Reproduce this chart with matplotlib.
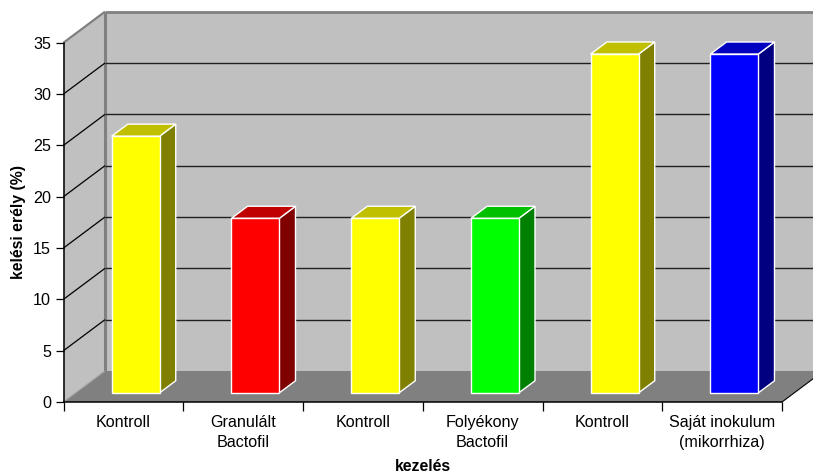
import matplotlib
matplotlib.use('Agg')
import matplotlib.pyplot as plt
from matplotlib.patches import Polygon

plt.rcParams['font.family'] = ['Liberation Sans', 'DejaVu Sans']

kezeles = ['Kontroll', 'Granulált\nBactofil', 'Kontroll', 'Folyékony\nBactofil', 'Kontroll', 'Saját inokulum\n(mikorrhiza)']
keles = [25, 17, 17, 17, 33, 33]
y_ticks = [0, 5, 10, 15, 20, 25, 30, 35]

# front, top, side shade of every bar
szin_elol = ['#ffff00', '#ff0000', '#ffff00', '#00ff00', '#ffff00', '#0000ff']
szin_felul = ['#c0c000', '#c00000', '#c0c000', '#00c000', '#c0c000', '#0000c0']
szin_oldal = ['#808000', '#800000', '#808000', '#008000', '#808000', '#000080']

# shift of the back wall, in axis units
DX = 0.3464
DY = 3.02
YMAX = 35
XMAX = 6


def p(x, y, d=0.0):
    # oblique projection, d=0 front plane, d=1 back wall
    return (x + DX * d, y + DY * d)


fig = plt.figure(figsize=(8.13, 4.73), dpi=100)
ax = fig.add_axes([63.5 / 813, 71 / 473, 718.5 / 813, 359.3 / 473])
ax.set_xlim(0, XMAX)
ax.set_ylim(0, YMAX)
ax.patch.set_visible(False)


def lap(pontok, szin, z, el='none', lw=0):
    ax.add_patch(Polygon(pontok, closed=True, facecolor=szin, edgecolor=el, linewidth=lw,
                         zorder=z, clip_on=False, joinstyle='miter'))


def vonal(a, b, szin, lw, z):
    ax.plot([a[0], b[0]], [a[1], b[1]], color=szin, linewidth=lw, zorder=z,
            clip_on=False, solid_capstyle='butt')


# walls and floor
lap([p(0, 0, 1), p(XMAX, 0, 1), p(XMAX, YMAX, 1), p(0, YMAX, 1)], '#c0c0c0', 1)
lap([p(0, 0), p(0, 0, 1), p(0, YMAX, 1), p(0, YMAX)], '#c0c0c0', 1)
lap([p(0, 0), p(XMAX, 0), p(XMAX, 0, 1), p(0, 0, 1)], '#808080', 2)

# wall edges, the grid runs over them
vonal(p(0, 0, 1), p(0, YMAX, 1), '#808080', 2.2, 2.5)
vonal(p(0, YMAX, 1), p(XMAX, YMAX, 1), '#808080', 2.0, 2.5)
vonal(p(0, YMAX), p(0, YMAX, 1), '#808080', 1.6, 2.5)
vonal(p(0, 0), p(0, 0, 1), '#a0a0a0', 0.8, 2.5)
vonal(p(XMAX, 0), p(XMAX, 0, 1), 'black', 0.8, 2.5)

# gridlines on the side and back walls
for t in y_ticks[1:-1]:
    vonal(p(0, t), p(0, t, 1), 'black', 0.9, 3)
    vonal(p(0, t, 1), p(XMAX, t, 1), '#202020', 1.0, 3)

# bars
sz = 0.4
d0, d1 = 0.295, 0.685
for i, v in enumerate(keles):
    x0 = i + 0.5 - sz / 2
    x1 = x0 + sz
    lap([p(x1, 0, d0), p(x1, 0, d1), p(x1, v, d1), p(x1, v, d0)], szin_oldal[i], 5, 'white', 1.0)
    lap([p(x0, v, d0), p(x1, v, d0), p(x1, v, d1), p(x0, v, d1)], szin_felul[i], 5, 'white', 1.0)
    lap([p(x0, 0, d0), p(x1, 0, d0), p(x1, v, d0), p(x0, v, d0)], szin_elol[i], 6, 'white', 1.0)

# axes
for s in ['top', 'right']:
    ax.spines[s].set_visible(False)
for s in ['left', 'bottom']:
    ax.spines[s].set_linewidth(1.1)
    ax.spines[s].set_zorder(7)

ax.set_yticks(y_ticks)
ax.tick_params(axis='y', length=6, width=0.9, labelsize=11.6, pad=3)
ax.set_xticks(range(XMAX + 1))
ax.set_xticklabels([])
ax.tick_params(axis='x', which='major', length=6.5, width=0.9)
ax.set_xticks([i + 0.5 for i in range(XMAX)], minor=True)
ax.set_xticklabels(kezeles, minor=True, fontsize=11.6, linespacing=1.42)
ax.tick_params(axis='x', which='minor', length=0, pad=9)

fig.text(422.5 / 813, 1 - 466.5 / 473, 'kezelés', fontsize=11.4, fontweight='bold', ha='center', va='center')
fig.text(18.5 / 813, 1 - 222 / 473, 'kelési erély (%)', fontsize=11.4, fontweight='bold',
         rotation=90, ha='center', va='center')

fig.savefig('out.png', dpi=100)
